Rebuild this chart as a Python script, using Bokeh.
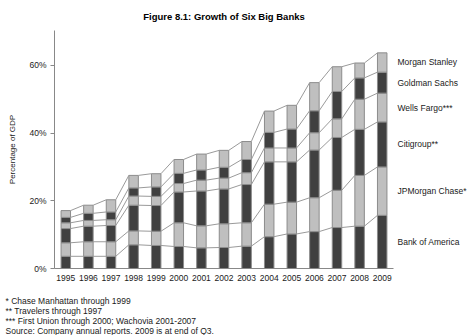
from bokeh.plotting import figure
from bokeh.models import FixedTicker, Range1d, LinearAxis, Title
from bokeh.embed import file_html
from bokeh.resources import INLINE

years = ["1995", "1996", "1997", "1998", "1999", "2000", "2001", "2002",
         "2003", "2004", "2005", "2006", "2007", "2008", "2009"]
bank_of_america = [3.6, 3.6, 3.6, 7.0, 6.8, 6.5, 6.1, 6.2, 6.6, 9.4, 10.2, 10.9, 12.1, 12.5, 15.7]
jpmorgan_chase = [4.0, 4.3, 4.3, 4.1, 4.2, 7.0, 6.5, 7.0, 6.9, 9.6, 9.4, 10.0, 11.0, 15.0, 14.3]
citigroup = [4.2, 4.6, 4.8, 7.6, 7.6, 9.1, 10.3, 10.3, 11.3, 12.5, 11.9, 14.1, 15.6, 13.6, 13.3]
wells_fargo = [1.7, 1.7, 1.7, 2.7, 2.7, 2.5, 3.2, 3.2, 3.5, 4.1, 4.1, 5.1, 5.5, 8.9, 8.5]
goldman_sachs = [1.6, 2.1, 2.3, 2.4, 2.8, 3.0, 3.0, 3.2, 3.9, 4.6, 5.6, 6.5, 8.1, 6.3, 6.2]
morgan_stanley = [2.0, 2.4, 3.6, 3.7, 3.9, 4.1, 4.7, 5.0, 5.3, 6.3, 7.0, 8.3, 7.3, 4.4, 5.7]

series_names = ["Bank of America", "JPMorgan Chase*", "Citigroup**",
                "Wells Fargo***", "Goldman Sachs", "Morgan Stanley"]
series_values = [bank_of_america, jpmorgan_chase, citigroup,
                 wells_fargo, goldman_sachs, morgan_stanley]

y_ticks = [0, 20, 40, 60]
y_tick_labels = ["0%", "20%", "40%", "60%"]

title_text = "Figure 8.1: Growth of Six Big Banks"
y_label_text = "Percentage of GDP"
footnotes = ["* Chase Manhattan through 1999",
             "** Travelers through 1997",
             "*** First Union through 2000; Wachovia 2001-2007",
             "Source: Company annual reports. 2009 is at end of Q3."]

DARK = "#404040"
LIGHT = "#bfbfbf"
EDGE = "#8c8c8c"
LINE = "#9a9a9a"
TEXT = "#1a1a1a"
FONT = "Liberation Sans"

p = figure(width=469, height=335, output_backend="svg", toolbar_location=None,
           x_range=Range1d(-0.5, 14.5), y_range=Range1d(0, 70.3),
           min_border_left=54, min_border_right=76, min_border_top=30,
           min_border_bottom=66, title=title_text)
p.outline_line_color = None
p.xgrid.visible = False
p.ygrid.visible = False
p.background_fill_color = "white"
p.border_fill_color = "white"

p.title.align = "center"
p.title.text_font = FONT
p.title.text_font_size = "9.5px"
p.title.text_font_style = "bold"
p.title.text_color = "black"
p.title.standoff = 17

xs = list(range(len(years)))
bw = 0.42
bottom = [0.0] * len(years)
tops_all = []
for i, vals in enumerate(series_values):
    top = [b + v for b, v in zip(bottom, vals)]
    p.vbar(x=xs, width=bw, bottom=bottom, top=top,
           fill_color=DARK if i % 2 == 0 else LIGHT,
           line_color=EDGE, line_width=1)
    tops_all.append(top)
    bottom = top

# connecting lines between bars
for top in tops_all:
    p.segment(x0=[x + bw / 2 for x in xs[:-1]], y0=top[:-1],
              x1=[x + 1 - bw / 2 for x in xs[:-1]], y1=top[1:],
              line_color=LINE, line_width=1)

# series labels at right, centred on each 2009 segment (right axis)
prev = [0.0] + [t[-1] for t in tops_all[:-1]]
mids = [(lo + top[-1]) / 2 for lo, top in zip(prev, tops_all)]
raxis = LinearAxis(ticker=FixedTicker(ticks=mids),
                   major_label_overrides={m: n for m, n in zip(mids, series_names)})
raxis.axis_line_color = None
raxis.major_tick_line_color = None
raxis.minor_tick_line_color = None
raxis.major_tick_out = 0
raxis.major_tick_in = 0
raxis.major_label_standoff = 4
raxis.major_label_text_font = FONT
raxis.major_label_text_font_size = "8.5px"
raxis.major_label_text_color = TEXT
p.add_layout(raxis, "right")

# axes
ya = p.yaxis[0]
ya.ticker = FixedTicker(ticks=y_ticks)
ya.major_label_overrides = {t: l for t, l in zip(y_ticks, y_tick_labels)}
ya.minor_tick_line_color = None
ya.major_tick_out = 4
ya.major_tick_in = 0
ya.major_label_standoff = 4
ya.axis_line_color = "#888888"
ya.major_tick_line_color = "#888888"
ya.major_label_text_font = FONT
ya.major_label_text_font_size = "8.5px"
ya.major_label_text_color = TEXT
ya.axis_label = y_label_text
ya.axis_label_text_font = FONT
ya.axis_label_text_font_size = "8px"
ya.axis_label_text_font_style = "normal"
ya.axis_label_text_color = TEXT
ya.axis_label_standoff = 9

xa = p.xaxis[0]
xa.ticker = FixedTicker(ticks=xs)
xa.major_label_overrides = {x: y for x, y in zip(xs, years)}
xa.minor_tick_line_color = None
xa.major_tick_line_color = None
xa.major_tick_out = 0
xa.major_tick_in = 0
xa.major_label_standoff = 6
xa.axis_line_color = "#888888"
xa.major_label_text_font = FONT
xa.major_label_text_font_size = "8.5px"
xa.major_label_text_color = TEXT

# footnotes below, one multi-line title (leading blank line as a spacer)
foot = Title(text="\n" + "\n".join(footnotes), align="left", offset=-49,
             standoff=0, text_font=FONT, text_font_size="8.5px",
             text_font_style="normal", text_color=TEXT, text_line_height=1.0)
p.add_layout(foot, "below")

open("out.html", "w").write(file_html(p, INLINE))
